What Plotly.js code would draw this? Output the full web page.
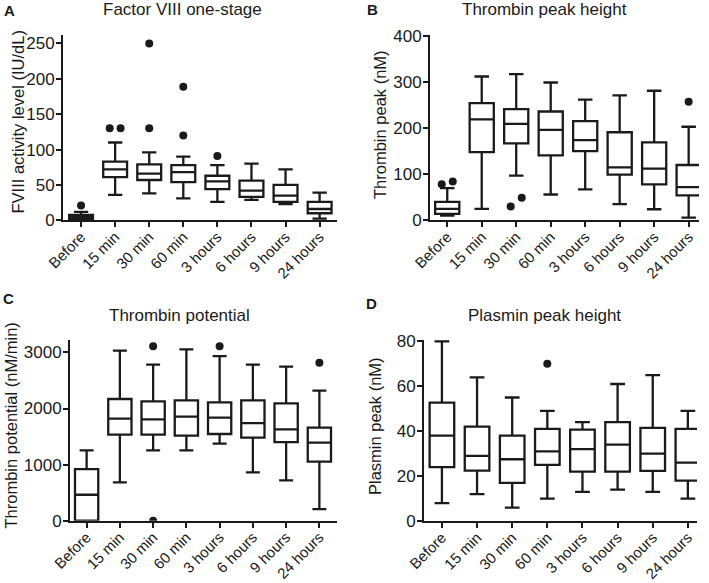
<!DOCTYPE html>
<html>
<head>
<meta charset="utf-8">
<script src="https://cdn.plot.ly/plotly-3.0.1.min.js"></script>
<style>html,body{margin:0;padding:0;background:#fff;}#chart{width:709px;height:583px;}</style>
</head>
<body>
<div id="chart"></div>
<script>
// ---------- data ----------
const categories = ["Before", "15 min", "30 min", "60 min", "3 hours", "6 hours", "9 hours", "24 hours"];

// A: Factor VIII one-stage (IU/dL)
const fviiiLower  = [0, 36, 38, 31, 26, 29, 23, 2.5];
const fviiiQ1     = [1.5, 61, 57, 54, 44, 33, 26, 10];
const fviiiMedian = [4, 72, 66, 68, 55, 42, 35, 16];
const fviiiQ3     = [7.5, 83, 79, 78, 63, 56, 50, 26];
const fviiiUpper  = [12, 110, 96, 90, 78, 80, 72, 39];
const fviiiOutGroup = [0, 1, 1, 2, 2, 3, 3, 4];
const fviiiOutValue = [21, 130, 130, 130, 250, 120, 189, 91];

// B: Thrombin peak height (nM)
const peakLower  = [10, 25, 97, 56, 67, 35, 24, 6];
const peakQ1     = [14, 148, 167, 141, 150, 99, 78, 54];
const peakMedian = [25, 219, 209, 196, 174, 115, 112, 72];
const peakQ3     = [40, 254, 241, 236, 215, 191, 169, 120];
const peakUpper  = [70, 312, 317, 299, 262, 271, 281, 203];
const peakOutGroup = [0, 0, 2, 2, 7];
const peakOutValue = [78, 84, 30, 49, 257];

// C: Thrombin potential (nM/min)
const potLower  = [0, 683, 1254, 1254, 1373, 862, 719, 208];
const potQ1     = [0, 1533, 1533, 1515, 1545, 1480, 1402, 1052];
const potMedian = [463, 1818, 1806, 1854, 1836, 1741, 1628, 1390];
const potQ3     = [921, 2169, 2127, 2145, 2109, 2145, 2092, 1658];
const potUpper  = [1254, 3030, 2781, 3054, 2935, 2781, 2745, 2317];
const potOutGroup = [2, 2, 4, 7];
const potOutValue = [3108, 0, 3108, 2816];

// D: Plasmin peak height (nM)
const plasLower  = [8, 12, 6, 10, 13, 14, 13, 10];
const plasQ1     = [24, 22.4, 17, 25, 22, 22, 22.3, 18];
const plasMedian = [38, 29, 27.5, 31, 32, 34, 30, 26];
const plasQ3     = [52.7, 42, 38, 41, 40.7, 44, 41.5, 41];
const plasUpper  = [80, 64, 55, 49, 44, 61, 65, 49];
const plasOutGroup = [3];
const plasOutValue = [70];

// ---------- helpers ----------
const INK = '#1a1a1a';
const FONT = 'Liberation Sans, Arial, sans-serif';
const positions = categories.map((_, i) => i);

function boxTrace(lower, q1, med, q3, upper, xa, ya) {
  return {
    type: 'box', x: positions, q1: q1, median: med, q3: q3,
    lowerfence: lower, upperfence: upper,
    boxpoints: false, width: 0.7, whiskerwidth: 0.6,
    fillcolor: '#ffffff', line: {color: INK, width: 2.3},
    xaxis: xa, yaxis: ya, hoverinfo: 'skip'
  };
}

// spread outliers that would overlap within the same group
function outlierTrace(groups, values, yRange, xa, ya) {
  const xs = groups.slice();
  const thr = 0.055 * (yRange[1] - yRange[0]);
  const byGroup = {};
  groups.forEach((g, i) => { (byGroup[g] = byGroup[g] || []).push(i); });
  Object.values(byGroup).forEach(idx => {
    idx.sort((a, b) => values[a] - values[b]);
    for (let k = 0; k + 1 < idx.length; k++) {
      const a = idx[k], b = idx[k + 1];
      if (Math.abs(values[b] - values[a]) < thr) {
        xs[a] = groups[a] - 0.16; xs[b] = groups[b] + 0.16; k++;
      }
    }
  });
  return {
    type: 'scatter', mode: 'markers', x: xs, y: values,
    marker: {color: INK, size: 8}, xaxis: xa, yaxis: ya,
    cliponaxis: true, hoverinfo: 'skip'
  };
}

const rangeA = [0, 262], rangeB = [0, 402], rangeC = [0, 3221], rangeD = [0, 80.6];

const data = [
  boxTrace(fviiiLower, fviiiQ1, fviiiMedian, fviiiQ3, fviiiUpper, 'x', 'y'),
  outlierTrace(fviiiOutGroup, fviiiOutValue, rangeA, 'x', 'y'),
  boxTrace(peakLower, peakQ1, peakMedian, peakQ3, peakUpper, 'x2', 'y2'),
  outlierTrace(peakOutGroup, peakOutValue, rangeB, 'x2', 'y2'),
  boxTrace(potLower, potQ1, potMedian, potQ3, potUpper, 'x3', 'y3'),
  outlierTrace(potOutGroup, potOutValue, rangeC, 'x3', 'y3'),
  boxTrace(plasLower, plasQ1, plasMedian, plasQ3, plasUpper, 'x4', 'y4'),
  outlierTrace(plasOutGroup, plasOutValue, rangeD, 'x4', 'y4')
];

const W = 709, H = 583;
const px = v => v / W, py = v => 1 - v / H;

function xAxis(dom, rng, anchor) {
  return {
    domain: dom, range: rng, anchor: anchor, tickmode: 'array',
    tickvals: positions, ticktext: categories, tickangle: -45,
    showline: true, linecolor: INK, linewidth: 2, ticks: 'outside',
    ticklen: 5, tickwidth: 2, tickcolor: INK, showgrid: false, zeroline: false,
    tickfont: {family: FONT, size: 15, color: INK},
    ticklabelstandoff: -5, fixedrange: true
  };
}
function yAxis(dom, rng, anchor, tv) {
  return {
    domain: dom, range: rng, anchor: anchor, tickmode: 'array', tickvals: tv,
    showline: true, linecolor: INK, linewidth: 2, ticks: 'outside',
    ticklen: 5, tickwidth: 2, tickcolor: INK, showgrid: false, zeroline: false,
    tickfont: {family: FONT, size: 17, color: INK},
    ticklabelstandoff: -2, fixedrange: true
  };
}

const titleFont = {family: FONT, size: 17, color: INK};
const yTitleFont = {family: FONT, size: 16.5, color: INK};
const letterFont = {family: FONT, size: 15, color: INK, weight: 'bold'};

function ann(text, x, y, font, angle) {
  return {text: text, x: px(x), y: py(y), xref: 'paper', yref: 'paper',
          showarrow: false, xanchor: 'center', yanchor: 'middle',
          font: font, textangle: angle || 0};
}

const layout = {
  width: W, height: H, margin: {l: 0, r: 0, t: 0, b: 0},
  paper_bgcolor: '#ffffff', plot_bgcolor: '#ffffff', showlegend: false,
  font: {family: FONT, color: INK},
  xaxis:  xAxis([px(63), px(337)], [-0.53, 7.51], 'y'),
  yaxis:  yAxis([py(220.3), py(35)], rangeA, 'x', [0, 50, 100, 150, 200, 250]),
  xaxis2: xAxis([px(430), px(699)], [-0.5, 7.3], 'y2'),
  yaxis2: yAxis([py(220.3), py(35)], rangeB, 'x2', [0, 100, 200, 300, 400]),
  xaxis3: xAxis([px(70), px(337)], [-0.5, 7.53], 'y3'),
  yaxis3: yAxis([py(520.7), py(340)], rangeC, 'x3', [0, 1000, 2000, 3000]),
  xaxis4: xAxis([px(424), px(697)], [-0.51, 7.26], 'y4'),
  yaxis4: yAxis([py(521), py(340)], rangeD, 'x4', [0, 20, 40, 60, 80]),
  annotations: [
    ann('<b>A</b>', 9, 11, letterFont),
    ann('<b>B</b>', 373, 9, letterFont),
    ann('<b>C</b>', 8, 299, letterFont),
    ann('<b>D</b>', 371, 303, letterFont),
    ann('Factor VIII one-stage', 182, 10, titleFont),
    ann('Thrombin peak height', 544, 10, titleFont),
    ann('Thrombin potential', 179, 315, titleFont),
    ann('Plasmin peak height', 544, 315, titleFont),
    ann('FVIII activity level (IU/dL)', 17.5, 122, yTitleFont, -90),
    ann('Thrombin peak (nM)', 380, 125, yTitleFont, -90),
    ann('Thrombin potential (nM/min)', 10.5, 426, yTitleFont, -90),
    ann('Plasmin peak (nM)', 375, 426, yTitleFont, -90)
  ]
};

Plotly.newPlot('chart', data, layout, {staticPlot: true, displayModeBar: false});
</script>
</body>
</html>
